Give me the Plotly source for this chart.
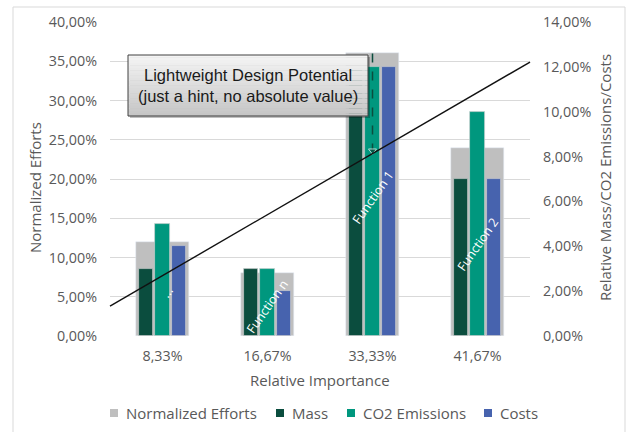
import plotly.graph_objects as go

# ---- data -------------------------------------------------------------
categories = ["8,33%", "16,67%", "33,33%", "41,67%"]          # relative importance
normalized_efforts = [12.0, 8.0, 36.0, 24.0]                   # % (left axis)
mass = [3.0, 3.0, 12.0, 7.0]                                   # % (right axis)
co2_emissions = [5.0, 3.0, 12.0, 10.0]                         # % (right axis)
costs = [4.0, 2.0, 12.0, 7.0]                                  # % (right axis)
potential_line = [3.8, 34.9]        # left-axis value at left / right plot edge
arrow_span = [36.0, 23.6]           # dashed arrow, left-axis values (top -> tip)
function_labels = ["...", "Function n", "Function 1", "Function 2"]
series_names = ["Normalized Efforts", "Mass", "CO2 Emissions", "Costs"]
left_ticks = [0, 5, 10, 15, 20, 25, 30, 35, 40]
right_ticks = [0, 2, 4, 6, 8, 10, 12, 14]

# ---- styling ----------------------------------------------------------
W, H = 628, 432
ML, MR, MT, MB = 110, 98, 22, 96
PW, PH = W - ML - MR, H - MT - MB
GRAY, MASS_C, CO2_C, COST_C = "#BFBFBF", "#0B4D3E", "#00977E", "#4763AE"
SERIES_COLORS = [GRAY, MASS_C, CO2_C, COST_C]
TXT = "#595959"
FONT = "Open Sans"
FS = 14.3      # tick labels
FT = 15        # axis titles and legend
Y1MAX, Y2MAX = 40, 14


def px(x):
    return (x - ML) / PW


def py(y):
    return (MT + PH - y) / PH


def pct(v):
    return f"{v:.2f}%".replace(".", ",")


fig = go.Figure()
fig.add_bar(x=categories, y=normalized_efforts, name=series_names[0],
            marker=dict(color=GRAY), width=0.5, yaxis="y")
edge = dict(color="rgba(210,210,210,0.8)", width=0.8)
fig.add_bar(x=categories, y=mass, name=series_names[1], marker=dict(color=MASS_C, line=edge),
            width=0.135, offset=-0.228, yaxis="y2")
fig.add_bar(x=categories, y=co2_emissions, name=series_names[2],
            marker=dict(color=CO2_C, line=edge), width=0.135, offset=-0.0675, yaxis="y2")
fig.add_bar(x=categories, y=costs, name=series_names[3], marker=dict(color=COST_C, line=edge),
            width=0.135, offset=0.093, yaxis="y2")

# dashed arrow on the 33,33% group (values converted to the right axis scale)
scale = Y2MAX / Y1MAX
fig.add_scatter(x=[categories[2], categories[2]], y=[v * scale for v in arrow_span],
                yaxis="y2", mode="lines+markers", showlegend=False, hoverinfo="skip",
                line=dict(color=MASS_C, width=1.5, dash="dash"),
                marker=dict(symbol="triangle-down", size=[0, 7], color=MASS_C))

shapes = []
# outer chart frame
shapes.append(dict(type="rect", xref="paper", yref="paper", x0=px(13), x1=px(625),
                   y0=py(7), y1=py(445), line=dict(color="#D9D9D9", width=1),
                   fillcolor="rgba(0,0,0,0)", layer="below"))
# lightweight design potential line
shapes.append(dict(type="line", xref="x domain", yref="y", x0=0, x1=1,
                   y0=potential_line[0], y1=potential_line[1],
                   line=dict(color="#111111", width=1.4), layer="above"))
# callout box: shadow, gradient strips, border
bx0, bx1, by0, by1 = 128, 368, 55, 116
shapes.append(dict(type="rect", xref="paper", yref="paper", x0=px(bx0 + 2), x1=px(bx1 + 2),
                   y0=py(by0 + 2), y1=py(by1 + 2), line=dict(width=0),
                   fillcolor="rgba(0,0,0,0.25)", layer="above"))
n = 24
for i in range(n):
    t = i / (n - 1)
    g = int(round(244 - t * (244 - 198)))
    ya = by0 + (by1 - by0) * i / n
    yb = by0 + (by1 - by0) * (i + 1) / n
    shapes.append(dict(type="rect", xref="paper", yref="paper", x0=px(bx0), x1=px(bx1),
                       y0=py(ya), y1=py(yb) - 0.001, line=dict(width=0),
                       fillcolor=f"rgb({g},{g},{g})", layer="above"))
shapes.append(dict(type="rect", xref="paper", yref="paper", x0=px(bx0), x1=px(bx1),
                   y0=py(by0), y1=py(by1), line=dict(color="#404040", width=1),
                   fillcolor="rgba(0,0,0,0)", layer="above"))

CENTER = dict(xanchor="center", yanchor="middle", showarrow=False)
annotations = [
    dict(text="Lightweight Design Potential<br>(just a hint, no absolute value)",
         xref="paper", yref="paper", x=px((bx0 + bx1) / 2), y=py((by0 + by1) / 2),
         font=dict(family="Liberation Sans", size=16.5, color="#1A1A1A"), **CENTER),
    dict(text="Normalized Efforts", xref="paper", yref="paper", x=px(35), y=py(188),
         textangle=-90, font=dict(family=FONT, size=FT, color=TXT), **CENTER),
    dict(text="Relative Mass/CO2 Emissions/Costs", xref="paper", yref="paper",
         x=px(605), y=py(178), textangle=-90,
         font=dict(family=FONT, size=FT, color=TXT), **CENTER),
    dict(text="Relative Importance", xref="paper", yref="paper", x=0.5, y=py(380),
         font=dict(family=FONT, size=FT, color=TXT), **CENTER),
]
# rotated function labels inside the bar groups
label_pos = [(0.04, 5.6), (1.0, 3.7), (2.0, 17.7), (3.0, 11.7)]
for lab, (xi, yv) in zip(function_labels, label_pos):
    annotations.append(dict(text=lab, xref="x", yref="y", x=xi, y=yv, textangle=-55,
                            font=dict(family=FONT, size=12.5, color="white"), **CENTER))

# legend row below the axis title: colour square + series name
legend_x = [110, 276, 347, 484]
legend_y = 413
for name, col, lx in zip(series_names, SERIES_COLORS, legend_x):
    shapes.append(dict(type="rect", xref="paper", yref="paper", x0=px(lx), x1=px(lx + 8),
                       y0=py(legend_y + 4), y1=py(legend_y - 4), line=dict(width=0),
                       fillcolor=col))
    annotations.append(dict(text=name, xref="paper", yref="paper", x=px(lx + 14),
                            y=py(legend_y), xanchor="left", yanchor="middle",
                            showarrow=False, font=dict(family=FONT, size=FT, color=TXT)))

fig.update_layout(
    width=W, height=H, margin=dict(l=ML, r=MR, t=MT, b=MB, autoexpand=False),
    paper_bgcolor="white", plot_bgcolor="white",
    barmode="overlay", bargap=0, showlegend=False,
    font=dict(family=FONT, size=FS, color=TXT),
    xaxis=dict(type="category", range=[-0.5, 3.5], showgrid=False, showline=False,
               ticks="", ticklabelstandoff=10, tickfont=dict(size=FS, color=TXT)),
    yaxis=dict(range=[0, Y1MAX], tickvals=left_ticks, ticktext=[pct(v) for v in left_ticks],
               showgrid=True, gridcolor="#D9D9D9", gridwidth=1, zeroline=False,
               showline=False, ticks="", ticklabelstandoff=12,
               tickfont=dict(size=FS, color=TXT)),
    yaxis2=dict(range=[0, Y2MAX], overlaying="y", side="right", tickvals=right_ticks,
                ticktext=[pct(v) for v in right_ticks], showgrid=False, zeroline=False,
                showline=False, ticks="", ticklabelstandoff=12,
                tickfont=dict(size=FS, color=TXT)),
    shapes=shapes, annotations=annotations,
)

fig.write_html("out.html")
